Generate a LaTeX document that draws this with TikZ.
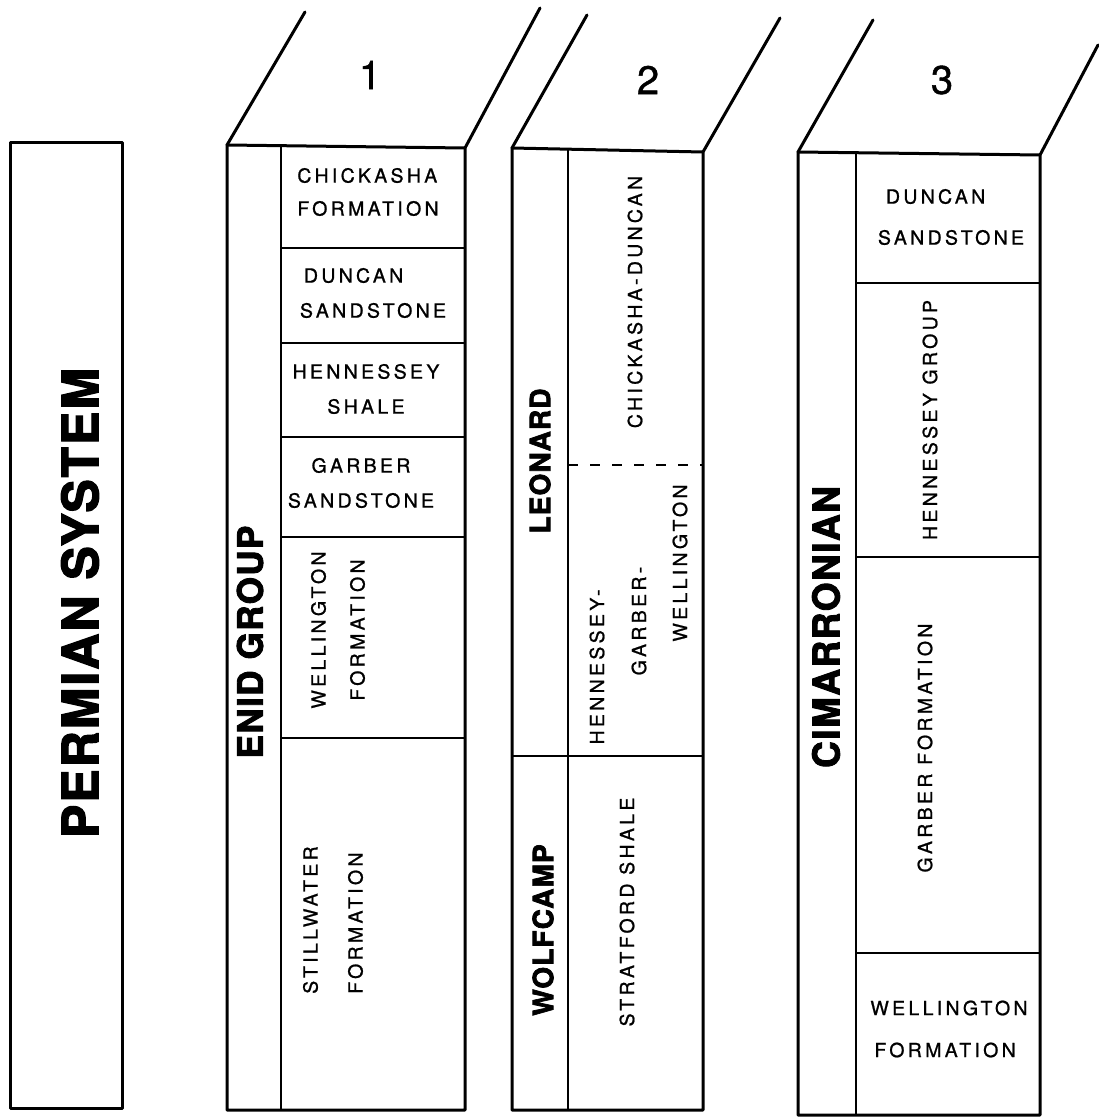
\documentclass[tikz,border=0pt]{standalone}
\usepackage{fontspec}
\setmainfont{TeX Gyre Heros}[LetterSpace=17,FakeBold=1]
\newfontfamily\heavyfont{TeX Gyre Heros}[FakeBold=2.5,LetterSpace=4]
\newcommand{\unitsize}{\fontsize{19.5}{35}\selectfont}
\newcommand{\numsize}{\fontsize{40}{40}\selectfont}
\newcommand{\erasize}[1]{\heavyfont\bfseries\fontsize{#1}{#1}\selectfont}

\begin{document}
\begin{tikzpicture}[x=1pt,y=-1pt,
	edge/.style={line width=3pt, line cap=round, line join=round},
	rule/.style={line width=2.4pt},
	unit/.style={font=\unitsize, inner sep=0pt},
	vunit/.style={unit, rotate=90},
	era/.style={inner sep=0pt, rotate=90}]
	\useasboundingbox (0,0) rectangle (1098,1118);

	% system
	\draw[edge] (10,143) rectangle (122,1108);
	\node[era, font=\erasize{50}] (perm) at (80,603) {PERMIAN SYSTEM};

	% column 1
	\draw[edge] (305,12) -- (227,145) -- (227,1110) -- (465,1110) -- (465,148) -- (540,8);
	\draw[edge] (227,145) -- (465,148);
	\draw[rule] (281,146) -- (281,1110);
	\foreach \y in {248,343,437,537,738}
		\draw[rule] (281,\y) -- (465,\y);
	\node[font=\numsize] (n1) at (370,75) {1};
	\node[era, font=\erasize{35}] (enid) at (250,642) {ENID GROUP};
	\node[unit, align=left] (chick1) at (368,192) {CHICKASHA\\[-2pt]FORMATION};
	\node[unit, align=left] (dunc1) at (373,293) {\hspace{4pt}DUNCAN\\SANDSTONE};
	\node[unit, align=center] (henn1) at (366,389) {HENNESSEY\\SHALE};
	\node[unit, align=center] (garb1) at (361,483) {GARBER\\SANDSTONE};
	\node[vunit, align=center] (well1) at (338,630) {WELLINGTON\\[4pt]FORMATION};
	\node[vunit, align=left] (still1) at (333,920) {STILLWATER\\[10pt]FORMATION};

	% column 2
	\draw[edge] (587,15) -- (512,148) -- (512,1110) -- (703,1110) -- (703,152) -- (780,18);
	\draw[edge] (512,148) -- (703,152);
	\draw[rule] (568,150) -- (568,1110);
	\draw[rule] (512,756) -- (703,756);
	\draw[rule, dash pattern=on 10pt off 12pt] (568,465) -- (703,465);
	\node[font=\numsize] (n2) at (648,80) {2};
	\node[era, font=\erasize{28}] (leon) at (540,461) {LEONARD};
	\node[era, font=\erasize{28}] (wolf) at (543,930) {WOLFCAMP};
	\node[vunit] (chdu) at (635,302) {CHICKASHA-DUNCAN};
	\node[vunit] (hgw1) at (597,667) {HENNESSEY-};
	\node[vunit] (hgw2) at (639,621) {GARBER-};
	\node[vunit] (hgw3) at (680,563) {WELLINGTON};
	\node[vunit] (strat) at (627,912) {STRATFORD SHALE};

	% column 3
	\draw[edge] (873,20) -- (798,152) -- (798,1115) -- (1040,1115) -- (1040,155) -- (1098,45);
	\draw[edge] (798,152) -- (1040,155);
	\draw[rule] (856,153) -- (856,1115);
	\foreach \y in {283,557,953}
		\draw[rule] (856,\y) -- (1040,\y);
	\node[font=\numsize] (n3) at (942,80) {3};
	\node[era, font=\erasize{37}] (cima) at (826,627) {CIMARRONIAN};
	\node[unit, align=left] (dunc3) at (951,217) {\hspace{8pt}DUNCAN\\[6pt]SANDSTONE};
	\node[vunit] (henn3) at (930,420) {HENNESSEY GROUP};
	\node[vunit] (garb3) at (925,748) {GARBER FORMATION};
	\node[unit, align=left] (well3) at (949,1029) {WELLINGTON\\[7pt]\hspace{4pt}FORMATION};
\end{tikzpicture}
\end{document}
